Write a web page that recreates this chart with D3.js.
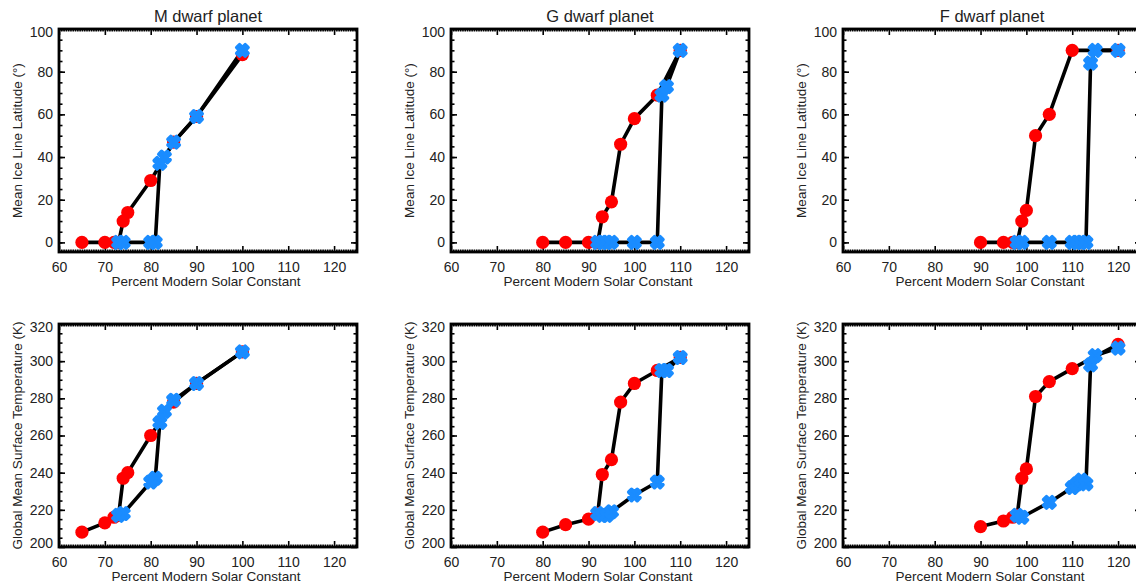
<!DOCTYPE html>
<html>
<head>
<meta charset="utf-8">
<script src="https://cdn.jsdelivr.net/npm/d3@7"></script>
<style>
  body { margin: 0; background: #fff; }
  svg text { font-family: "Liberation Sans", Arial, Helvetica, sans-serif; fill: #222; }
</style>
</head>
<body>
<div id="container"></div>
<script>
// ---- data ----
var titles = ["M dwarf planet", "G dwarf planet", "F dwarf planet"];

// red circles (warm start), blue crosses (cold start)
var mWarmX = [65, 70, 72, 73, 74, 75, 80, 85, 90, 100];
var mWarmLat = [0, 0, 0, 0, 10, 14, 29, 47, 59, 88];
var mWarmT = [208, 213, 216, 217, 237, 240, 260, 278, 288, 305];
var mColdX = [73, 74, 80, 81, 82, 83, 85, 90, 100];
var mColdLat = [0, 0, 0, 0, 37, 40, 47, 59, 90];
var mColdT = [217, 218, 235, 237, 267, 273, 279, 288, 305];

var gWarmX = [80, 85, 90, 92, 93, 95, 97, 100, 105, 110];
var gWarmLat = [0, 0, 0, 0, 12, 19, 46, 58, 69, 90];
var gWarmT = [208, 212, 215, 218, 239, 247, 278, 288, 295, 302];
var gColdX = [92, 93, 94, 95, 100, 105, 106, 107, 110];
var gColdLat = [0, 0, 0, 0, 0, 0, 69, 73, 90];
var gColdT = [218, 217, 217, 219, 228, 235, 295, 295, 302];

var fWarmX = [90, 95, 97, 98, 99, 100, 102, 105, 110, 120];
var fWarmLat = [0, 0, 0, 0, 10, 15, 50, 60, 90, 90];
var fWarmT = [211, 214, 216, 217, 237, 242, 281, 289, 296, 309];
var fColdX = [98, 99, 105, 110, 111, 112, 113, 114, 115, 120];
var fColdLat = [0, 0, 0, 0, 0, 0, 0, 84, 90, 90];
var fColdT = [217, 216, 224, 232, 234, 236, 234, 298, 303, 307];

var xTicks = [60, 70, 80, 90, 100, 110, 120];
var latTicks = [0, 20, 40, 60, 80, 100];
var tempTicks = [200, 220, 240, 260, 280, 300, 320];

var xLabel = "Percent Modern Solar Constant";
var latLabel = "Mean Ice Line Latitude (\u00b0)";
var tempLabel = "Global Mean Surface Temperature (K)";

var stars = [
  { warmX: mWarmX, warmLat: mWarmLat, warmT: mWarmT, coldX: mColdX, coldLat: mColdLat, coldT: mColdT },
  { warmX: gWarmX, warmLat: gWarmLat, warmT: gWarmT, coldX: gColdX, coldLat: gColdLat, coldT: gColdT },
  { warmX: fWarmX, warmLat: fWarmLat, warmT: fWarmT, coldX: fColdX, coldLat: fColdLat, coldT: fColdT }
];

// ---- layout ----
var W = 1136, H = 585;
var panelLeft = [59, 451, 843], panelW = 298;
var rows = [
  { top: 29, bottom: 252, domain: [-4.5, 100], ticks: latTicks, minor: 5, label: latLabel, key: "Lat" },
  { top: 324, bottom: 547, domain: [200, 320], ticks: tempTicks, minor: 5, label: tempLabel, key: "T" }
];

var svg = d3.select("#container").append("svg")
  .attr("width", W).attr("height", H)
  .attr("viewBox", "0 0 " + W + " " + H);

function zip(xs, ys) { return xs.map(function(d, i) { return [d, ys[i]]; }); }

var blueCross = d3.symbol().type(d3.symbolCross).size(80);

rows.forEach(function(row, ri) {
  stars.forEach(function(st, pi) {
    var x0 = panelLeft[pi];
    var x = d3.scaleLinear().domain([60, 125]).range([x0, x0 + panelW]);
    var y = d3.scaleLinear().domain(row.domain).range([row.bottom, row.top]);
    var g = svg.append("g");

    var minorX = d3.range(60.5, 125, 0.5).filter(function(v) { return v % 10 !== 0; });
    var minorY = d3.range(row.domain[0], row.domain[1], 1)
      .map(Math.ceil).filter(function(v, i, a) { return v % row.minor === 0 && a.indexOf(v) === i; })
      .filter(function(v) { return v > row.domain[0] && v < row.domain[1]; });

    // minor ticks
    g.append("g").attr("transform", "translate(0," + row.bottom + ")")
      .call(d3.axisBottom(x).tickValues(minorX).tickSize(-2.5).tickFormat(""));
    g.append("g").attr("transform", "translate(0," + row.top + ")")
      .call(d3.axisTop(x).tickValues(minorX).tickSize(-2.5).tickFormat(""));
    g.append("g").attr("transform", "translate(" + x0 + ",0)")
      .call(d3.axisLeft(y).tickValues(minorY).tickSize(-3.5).tickFormat(""));
    g.append("g").attr("transform", "translate(" + (x0 + panelW) + ",0)")
      .call(d3.axisRight(y).tickValues(minorY).tickSize(-3.5).tickFormat(""));

    // major ticks
    g.append("g").attr("transform", "translate(0," + row.bottom + ")")
      .call(d3.axisBottom(x).tickValues(xTicks).tickSizeInner(-6).tickSizeOuter(0).tickPadding(10));
    g.append("g").attr("transform", "translate(0," + row.top + ")")
      .call(d3.axisTop(x).tickValues(xTicks).tickSizeInner(-6).tickSizeOuter(0).tickFormat(""));
    var ly = g.append("g").attr("transform", "translate(" + x0 + ",0)")
      .call(d3.axisLeft(y).tickValues(row.ticks).tickSizeInner(-6).tickSizeOuter(0).tickPadding(6));
    g.append("g").attr("transform", "translate(" + (x0 + panelW) + ",0)")
      .call(d3.axisRight(y).tickValues(row.ticks).tickSizeInner(-6).tickSizeOuter(0).tickFormat(""));

    g.selectAll(".domain").remove();
    g.selectAll(".tick line").attr("stroke", "#000").attr("stroke-width", 1.6);
    g.selectAll(".tick text").attr("font-size", 14).style("fill", "#222");

    // nudge end labels inside the frame, as the original does
    ly.selectAll(".tick text").attr("dy", function(d) {
      if (d === row.domain[1]) return "0.55em";
      if (d === row.domain[0]) return "0.05em";
      return "0.32em";
    });

    // frame
    g.append("rect")
      .attr("x", x0).attr("y", row.top)
      .attr("width", panelW).attr("height", row.bottom - row.top)
      .attr("fill", "none").attr("stroke", "#000").attr("stroke-width", 2.8);

    // lines
    var line = d3.line().x(function(d) { return x(d[0]); }).y(function(d) { return y(d[1]); });
    var warm = zip(st.warmX, st["warm" + row.key]);
    var cold = zip(st.coldX, st["cold" + row.key]);
    g.append("path").datum(warm).attr("d", line)
      .attr("fill", "none").attr("stroke", "#000").attr("stroke-width", 3.6).attr("stroke-linejoin", "round");
    g.append("path").datum(cold).attr("d", line)
      .attr("fill", "none").attr("stroke", "#000").attr("stroke-width", 3.6).attr("stroke-linejoin", "round");

    // red circles
    g.selectAll("circle.warm").data(warm).enter().append("circle")
      .attr("class", "warm")
      .attr("cx", function(d) { return x(d[0]); })
      .attr("cy", function(d) { return y(d[1]); })
      .attr("r", 6.6).attr("fill", "#ff0000");

    // blue crosses
    g.selectAll("path.cold").data(cold).enter().append("path")
      .attr("class", "cold")
      .attr("d", blueCross)
      .attr("transform", function(d) { return "translate(" + x(d[0]) + "," + y(d[1]) + ") rotate(45)"; })
      .attr("fill", "#1a8cff").attr("stroke", "#1a8cff").attr("stroke-width", 3.6)
      .attr("stroke-linejoin", "round");

    // axis titles
    g.append("text")
      .attr("x", x0 + panelW / 2 - 2).attr("y", row.bottom + 34)
      .attr("text-anchor", "middle").attr("font-size", 13.5)
      .text(xLabel);
    g.append("text")
      .attr("transform", "translate(" + (x0 - 37) + "," + ((row.top + row.bottom) / 2) + ") rotate(-90)")
      .attr("text-anchor", "middle").attr("font-size", 13.5)
      .text(row.label);

    if (ri === 0) {
      g.append("text")
        .attr("x", x0 + panelW / 2).attr("y", 22)
        .attr("text-anchor", "middle").attr("font-size", 16.5)
        .text(titles[pi]);
    }
  });
});
</script>
</body>
</html>
